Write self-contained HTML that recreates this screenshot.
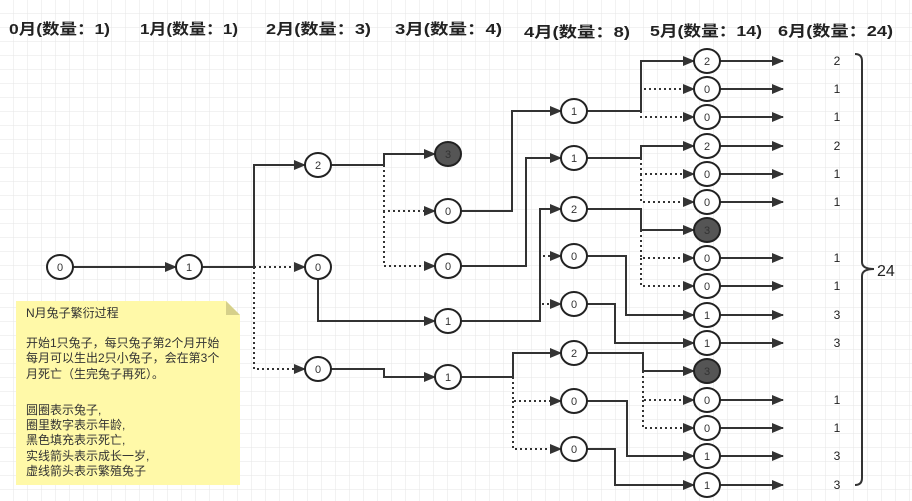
<!DOCTYPE html>
<html><head><meta charset="utf-8"><style>
html,body{margin:0;padding:0;background:#fff;}
svg{display:block;}
text{font-family:"Liberation Sans","Noto Sans CJK SC",sans-serif;}
</style></head><body>
<svg width="912" height="501" viewBox="0 0 912 501" xmlns="http://www.w3.org/2000/svg">
<defs>
<pattern id="g" width="14" height="14" patternUnits="userSpaceOnUse" x="0" y="0">
<path d="M14 0V14M0 14H14" stroke="#e6e6e6" stroke-width="1" fill="none"/>
</pattern>
<marker id="a" markerWidth="12" markerHeight="10" refX="11" refY="5" orient="auto" markerUnits="userSpaceOnUse">
<path d="M0 0L12 5L0 10Z" fill="#333"/>
</marker>
</defs>
<rect width="912" height="501" fill="url(#g)"/>

<g font-size="15" fill="#222" font-weight="bold">
<text x="9" y="34" textLength="101" lengthAdjust="spacingAndGlyphs">0月(数量：1)</text>
<text x="140" y="34" textLength="98" lengthAdjust="spacingAndGlyphs">1月(数量：1)</text>
<text x="266" y="34" textLength="105" lengthAdjust="spacingAndGlyphs">2月(数量：3)</text>
<text x="395" y="34" textLength="107" lengthAdjust="spacingAndGlyphs">3月(数量：4)</text>
<text x="524" y="37" textLength="106" lengthAdjust="spacingAndGlyphs">4月(数量：8)</text>
<text x="650" y="36" textLength="112" lengthAdjust="spacingAndGlyphs">5月(数量：14)</text>
<text x="778" y="36" textLength="115" lengthAdjust="spacingAndGlyphs">6月(数量：24)</text>
</g>

<!-- note -->
<path d="M16 301H226L240 315V485H16Z" fill="#fff9a8"/>
<path d="M226 301V315H240Z" fill="#d6d08a"/>
<g font-size="12" fill="#333">
<text x="26" y="317">N月兔子繁衍过程</text>
<text x="26" y="347">开始1只兔子，每只兔子第2个月开始</text>
<text x="26" y="362">每月可以生出2只小兔子，会在第3个</text>
<text x="26" y="378">月死亡（生完兔子再死）。</text>
<text x="26" y="414">圆圈表示兔子,</text>
<text x="26" y="429">圈里数字表示年龄,</text>
<text x="26" y="444">黑色填充表示死亡,</text>
<text x="26" y="460">实线箭头表示成长一岁,</text>
<text x="26" y="475">虚线箭头表示繁殖兔子</text>
</g>

<!-- solid connectors -->
<g fill="none" stroke="#333" stroke-width="2" marker-end="url(#a)">
<path d="M73 267H176"/>
<path d="M202 267H254V165H305"/>
<path d="M331 165H384V154H435"/>
<path d="M318 279V321H435"/>
<path d="M331 369H384V377H435"/>
<path d="M461 211H512V111H561"/>
<path d="M461 266H526V158H561"/>
<path d="M461 321H540V209H561"/>
<path d="M461 377H513V353H561"/>
<path d="M587 111H641V61H694"/>
<path d="M587 158H641V146H694"/>
<path d="M587 209H641V230H694"/>
<path d="M587 256H626V315H694"/>
<path d="M587 304H615V343H694"/>
<path d="M587 353H643V371H694"/>
<path d="M587 401H627V456H694"/>
<path d="M587 449H615V485H694"/>
<path d="M720 61H783"/><path d="M720 89H783"/><path d="M720 117H783"/>
<path d="M720 146H783"/><path d="M720 174H783"/><path d="M720 202H783"/>
<path d="M720 258H783"/><path d="M720 286H783"/><path d="M720 315H783"/>
<path d="M720 343H783"/><path d="M720 400H783"/><path d="M720 428H783"/>
<path d="M720 456H783"/><path d="M720 485H783"/>
</g>
<!-- dotted connectors -->
<g fill="none" stroke="#333" stroke-width="2" stroke-dasharray="2 3" marker-end="url(#a)">
<path d="M254 267H305"/>
<path d="M254 267V369H305"/>
<path d="M384 165V211H435"/>
<path d="M384 211V266H435"/>
<path d="M540 209V256H561"/>
<path d="M540 256V304H561"/>
<path d="M513 377V401H561"/>
<path d="M513 401V449H561"/>
<path d="M641 111V89H694"/>
<path d="M641 111V117H694"/>
<path d="M641 158V174H694"/>
<path d="M641 174V202H694"/>
<path d="M641 230V258H694"/>
<path d="M641 258V286H694"/>
<path d="M643 371V400H694"/>
<path d="M643 400V428H694"/>
</g>

<!-- nodes -->
<g stroke="#222" stroke-width="2" fill="#fff">
<ellipse cx="60" cy="267" rx="13" ry="12"/>
<ellipse cx="189" cy="267" rx="13" ry="12"/>
<ellipse cx="318" cy="165" rx="13" ry="12"/>
<ellipse cx="318" cy="267" rx="13" ry="12"/>
<ellipse cx="318" cy="369" rx="13" ry="12"/>
<ellipse cx="448" cy="154" rx="13" ry="12" fill="#555"/>
<ellipse cx="448" cy="211" rx="13" ry="12"/>
<ellipse cx="448" cy="266" rx="13" ry="12"/>
<ellipse cx="448" cy="321" rx="13" ry="12"/>
<ellipse cx="448" cy="377" rx="13" ry="12"/>
<ellipse cx="574" cy="111" rx="13" ry="12"/>
<ellipse cx="574" cy="158" rx="13" ry="12"/>
<ellipse cx="574" cy="209" rx="13" ry="12"/>
<ellipse cx="574" cy="256" rx="13" ry="12"/>
<ellipse cx="574" cy="304" rx="13" ry="12"/>
<ellipse cx="574" cy="353" rx="13" ry="12"/>
<ellipse cx="574" cy="401" rx="13" ry="12"/>
<ellipse cx="574" cy="449" rx="13" ry="12"/>
<ellipse cx="707" cy="61" rx="13" ry="12"/>
<ellipse cx="707" cy="89" rx="13" ry="12"/>
<ellipse cx="707" cy="117" rx="13" ry="12"/>
<ellipse cx="707" cy="146" rx="13" ry="12"/>
<ellipse cx="707" cy="174" rx="13" ry="12"/>
<ellipse cx="707" cy="202" rx="13" ry="12"/>
<ellipse cx="707" cy="230" rx="13" ry="12" fill="#555"/>
<ellipse cx="707" cy="258" rx="13" ry="12"/>
<ellipse cx="707" cy="286" rx="13" ry="12"/>
<ellipse cx="707" cy="315" rx="13" ry="12"/>
<ellipse cx="707" cy="343" rx="13" ry="12"/>
<ellipse cx="707" cy="371" rx="13" ry="12" fill="#555"/>
<ellipse cx="707" cy="400" rx="13" ry="12"/>
<ellipse cx="707" cy="428" rx="13" ry="12"/>
<ellipse cx="707" cy="456" rx="13" ry="12"/>
<ellipse cx="707" cy="485" rx="13" ry="12"/>
</g>
<g font-size="11" fill="#333" text-anchor="middle">
<text x="60" y="271">0</text><text x="189" y="271">1</text>
<text x="318" y="169">2</text><text x="318" y="271">0</text><text x="318" y="373">0</text>
<text x="448" y="158" fill="#333">3</text><text x="448" y="215">0</text><text x="448" y="270">0</text><text x="448" y="325">1</text><text x="448" y="381">1</text>
<text x="574" y="115">1</text><text x="574" y="162">1</text><text x="574" y="213">2</text><text x="574" y="260">0</text><text x="574" y="308">0</text><text x="574" y="357">2</text><text x="574" y="405">0</text><text x="574" y="453">0</text>
<text x="707" y="65">2</text><text x="707" y="93">0</text><text x="707" y="121">0</text><text x="707" y="150">2</text><text x="707" y="178">0</text><text x="707" y="206">0</text><text x="707" y="234">3</text><text x="707" y="262">0</text><text x="707" y="290">0</text><text x="707" y="319">1</text><text x="707" y="347">1</text><text x="707" y="375">3</text><text x="707" y="404">0</text><text x="707" y="432">0</text><text x="707" y="460">1</text><text x="707" y="489">1</text>
</g>

<!-- counts -->
<g font-size="12" fill="#222" text-anchor="middle">
<text x="837" y="65">2</text><text x="837" y="93">1</text><text x="837" y="121">1</text>
<text x="837" y="150">2</text><text x="837" y="178">1</text><text x="837" y="206">1</text>
<text x="837" y="262">1</text><text x="837" y="290">1</text><text x="837" y="319">3</text>
<text x="837" y="347">3</text><text x="837" y="404">1</text><text x="837" y="432">1</text>
<text x="837" y="460">3</text><text x="837" y="489">3</text>
</g>
<path d="M855 54Q862 54 862 61V262Q862 269 874 269Q862 269 862 276V478Q862 485 855 485" fill="none" stroke="#333" stroke-width="2"/>
<text x="877" y="276" font-size="16" fill="#222">24</text>
</svg>
</body></html>
